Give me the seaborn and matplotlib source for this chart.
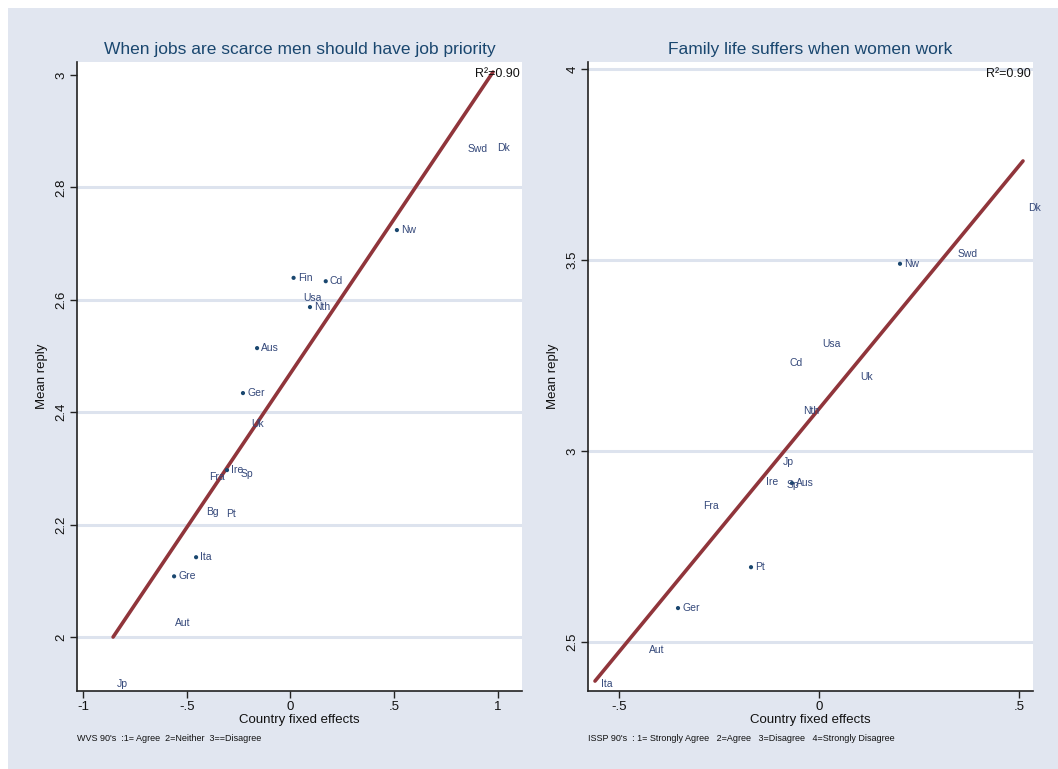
import numpy as np
import pandas as pd
import matplotlib
matplotlib.use('Agg')
import matplotlib.pyplot as plt
import seaborn as sns
from matplotlib.patches import Rectangle

# Left panel: WVS, "When jobs are scarce men should have job priority"
wvs_country = ['Swd', 'Dk', 'Nw', 'Fin', 'Cd', 'Usa', 'Nth', 'Aus', 'Ger', 'Uk',
               'Fra', 'Ire', 'Sp', 'Bg', 'Pt', 'Ita', 'Gre', 'Aut', 'Jp']
wvs_fe = [0.836, 0.976, 0.513, 0.015, 0.170, 0.040, 0.094, -0.161, -0.229, -0.210,
          -0.412, -0.306, -0.260, -0.427, -0.330, -0.455, -0.561, -0.576, -0.855]
wvs_reply = [2.868, 2.870, 2.724, 2.639, 2.633, 2.603, 2.587, 2.514, 2.434, 2.379,
             2.285, 2.297, 2.290, 2.222, 2.219, 2.142, 2.108, 2.025, 1.916]
wvs_dot = [False, False, True, True, True, False, True, True, True, False,
           False, True, False, False, False, True, True, False, False]
wvs_fit_x = [-0.855, 0.976]
wvs_fit_y = [2.0, 3.005]

# Right panel: ISSP, "Family life suffers when women work"
issp_country = ['Dk', 'Swd', 'Nw', 'Usa', 'Cd', 'Uk', 'Nth', 'Jp', 'Ire', 'Sp',
                'Aus', 'Fra', 'Pt', 'Ger', 'Aut', 'Ita']
issp_fe = [0.513, 0.335, 0.2025, -0.002, -0.085, 0.0925, -0.050, -0.100, -0.1425, -0.0925,
           -0.0675, -0.300, -0.170, -0.3525, -0.435, -0.555]
issp_reply = [3.636, 3.516, 3.490, 3.280, 3.230, 3.194, 3.105, 2.970, 2.920, 2.910,
              2.916, 2.856, 2.696, 2.589, 2.479, 2.390]
issp_dot = [False, False, True, False, False, False, False, False, False, False,
            True, False, True, True, False, False]
issp_fit_x = [-0.56, 0.51]
issp_fit_y = [2.398, 3.759]

W, H = 1058, 769
BG = '#e1e6f0'
GRID = '#dde3ee'
NAVY = '#1a476f'
LAB = '#34487a'
MAROON = '#90353b'

sns.set_theme(style='white')
plt.rcParams['font.family'] = ['Liberation Sans', 'DejaVu Sans']

fig = plt.figure(figsize=(W / 100, H / 100), dpi=100)
fig.patch.set_facecolor('white')
fig.patches.append(Rectangle((8 / W, 0), 1, 1 - 8 / H, transform=fig.transFigure,
                             facecolor=BG, edgecolor='none', zorder=-10))


def panel(rect, country, fe, reply, dot, fx, fy, xlim, ylim, xticks, xlabels,
          yticks, ylabels, grid, title, note):
    ax = fig.add_axes(rect)
    ax.set_facecolor('white')
    df = pd.DataFrame({'fe': fe, 'reply': reply, 'dot': dot, 'country': country})
    for g in grid:
        ax.axhline(g, color=GRID, lw=2.2, zorder=0)
    sns.lineplot(x=fx, y=fy, ax=ax, color=MAROON, lw=2.6, zorder=2)
    sns.scatterplot(data=df[df['dot']], x='fe', y='reply', ax=ax, color=NAVY,
                    s=9, edgecolor='none', zorder=3)
    for _, r in df.iterrows():
        ax.annotate(r['country'], (r['fe'], r['reply']), xytext=(3, 0),
                    textcoords='offset points', ha='left', va='center',
                    fontsize=7.5, color=LAB, zorder=4)
    ax.set_xlim(*xlim)
    ax.set_ylim(*ylim)
    ax.set_xticks(xticks)
    ax.set_xticklabels(xlabels, fontsize=9.5)
    ax.set_yticks(yticks)
    ax.set_yticklabels(ylabels, fontsize=9.5, rotation=90, va='center')
    ax.tick_params(bottom=True, left=True, direction='out', length=5, width=1,
                   color='#222222', pad=2)
    ax.tick_params(axis='both', labelcolor='#111111')
    for s in ['top', 'right']:
        ax.spines[s].set_visible(False)
    for s in ['left', 'bottom']:
        ax.spines[s].set_color('#222222')
        ax.spines[s].set_linewidth(1.2)
    ax.set_xlabel('Country fixed effects', fontsize=9.5, labelpad=1, color='#111111')
    ax.set_ylabel('Mean reply', fontsize=9.5, labelpad=5, color='#111111')
    ax.set_title(title, fontsize=12.5, color=NAVY, pad=6)
    ax.text(0.995, 0.99, 'R²=0.90', transform=ax.transAxes, ha='right', va='top',
            fontsize=9, color='#111111')
    ax.text(0.0, -0.068, note, transform=ax.transAxes, ha='left', va='top',
            fontsize=6.5, color='#111111')
    return ax


panel([77 / W, 1 - 691 / H, 445 / W, 629 / H], wvs_country, wvs_fe, wvs_reply, wvs_dot,
      wvs_fit_x, wvs_fit_y, (-1.029, 1.116), (1.904, 3.023),
      [-1, -0.5, 0, 0.5, 1], ['-1', '-.5', '0', '.5', '1'],
      [2, 2.2, 2.4, 2.6, 2.8, 3], ['2', '2.2', '2.4', '2.6', '2.8', '3'],
      [2, 2.2, 2.4, 2.6, 2.8],
      'When jobs are scarce men should have job priority',
      "WVS 90's  :1= Agree  2=Neither  3==Disagree")

panel([588 / W, 1 - 691 / H, 445 / W, 629 / H], issp_country, issp_fe, issp_reply, issp_dot,
      issp_fit_x, issp_fit_y, (-0.5775, 0.535), (2.372, 4.018),
      [-0.5, 0, 0.5], ['-.5', '0', '.5'],
      [2.5, 3, 3.5, 4], ['2.5', '3', '3.5', '4'],
      [2.5, 3, 3.5, 4],
      'Family life suffers when women work',
      "ISSP 90's  : 1= Strongly Agree   2=Agree   3=Disagree   4=Strongly Disagree")

fig.savefig('out.png', dpi=100, facecolor=fig.get_facecolor())
